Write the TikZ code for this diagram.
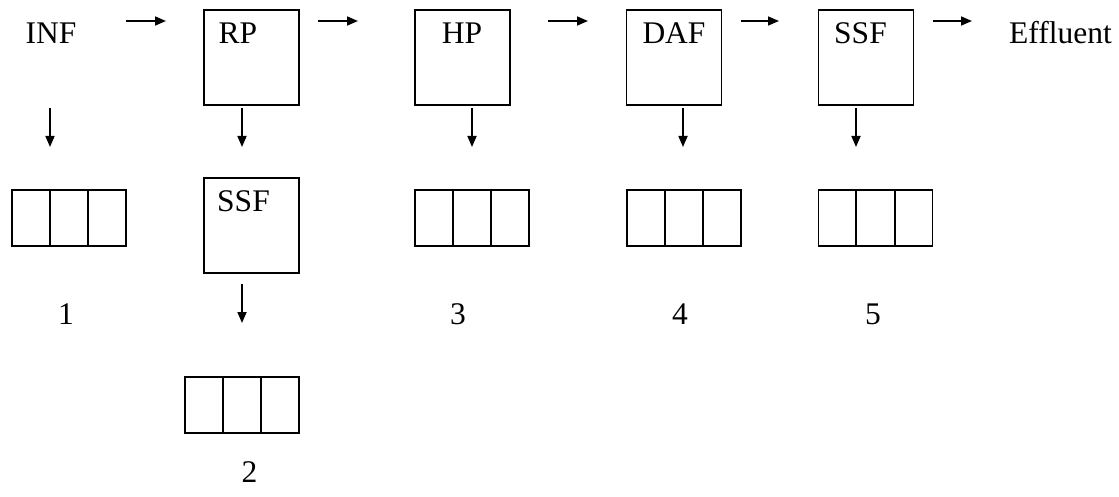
\documentclass[tikz,border=0pt]{standalone}
\usepackage{fontspec}
\setmainfont{Liberation Serif}
\usetikzlibrary{arrows.meta,calc}
\begin{document}
\begin{tikzpicture}[x=1pt,y=-1pt,
  unit/.style={draw, line width=1.7pt, minimum size=95pt, inner sep=0pt},
  tray/.style={draw, line width=1.7pt, minimum width=114pt, minimum height=56pt, inner sep=0pt},
  lbl/.style={inner sep=0pt, anchor=base, font=\fontsize{31.5}{38}\selectfont},
  flow/.style={line width=1.7pt, -{Triangle[length=11pt,width=9pt]}},
  divider/.style={line width=1.7pt}]
\useasboundingbox (0,0) rectangle (1119,497);

% treatment units
\node[unit] (rp)   at (251.5,57.5) {};
\node[unit] (hp)   at (462.5,57.5) {};
\node[unit] (daf)  at (674,57.5) {};
\node[unit] (ssf)  at (866,57.5) {};
\node[unit] (ssfb) at (251.5,225.5) {};

% sample trays
\node[tray] (t1) at (69,218) {};
\node[tray] (t2) at (242,405) {};
\node[tray] (t3) at (472,218) {};
\node[tray] (t4) at (684,218) {};
\node[tray] (t5) at (875.5,218) {};
\foreach \t in {t1,t2,t3,t4,t5} {
  \draw[divider] ($(\t.north west)!1/3!(\t.north east)$) -- ($(\t.south west)!1/3!(\t.south east)$);
  \draw[divider] ($(\t.north west)!2/3!(\t.north east)$) -- ($(\t.south west)!2/3!(\t.south east)$);
}

% labels
\node[lbl] (inf)   at (51,44) {INF};
\node[lbl] (rpl)   at (238,44) {RP};
\node[lbl] (hpl)   at (462,44) {HP};
\node[lbl] (dafl)  at (674,44) {DAF};
\node[lbl] (ssfl)  at (860.5,44) {SSF};
\node[lbl, anchor=base west] (eff) at (1009,44) {Effluent};
\node[lbl] (ssfbl) at (243.5,212) {SSF};
\node[lbl] (n1) at (66,324) {1};
\node[lbl] (n2) at (249.5,482) {2};
\node[lbl] (n3) at (458,324) {3};
\node[lbl] (n4) at (680,324) {4};
\node[lbl] (n5) at (873,324) {5};

% main flow arrows
\coordinate (h1s) at (126,21); \coordinate (h1e) at (166,21);
\coordinate (h2s) at (318,21); \coordinate (h2e) at (358,21);
\coordinate (h3s) at (548,21); \coordinate (h3e) at (588,21);
\coordinate (h4s) at (741,21); \coordinate (h4e) at (779,21);
\coordinate (h5s) at (933,21); \coordinate (h5e) at (972,21);
\foreach \i in {1,...,5} \draw[flow] (h\i s) -- (h\i e);

% sampling arrows
\coordinate (v1s) at (50,108);  \coordinate (v1e) at (50,147);
\coordinate (v2s) at (242,108); \coordinate (v2e) at (242,147);
\coordinate (v3s) at (472,108); \coordinate (v3e) at (472,147);
\coordinate (v4s) at (683,108); \coordinate (v4e) at (683,147);
\coordinate (v5s) at (856,108); \coordinate (v5e) at (856,147);
\coordinate (v6s) at (242,284); \coordinate (v6e) at (242,323);
\foreach \i in {1,...,6} \draw[flow] (v\i s) -- (v\i e);
\end{tikzpicture}
\end{document}
